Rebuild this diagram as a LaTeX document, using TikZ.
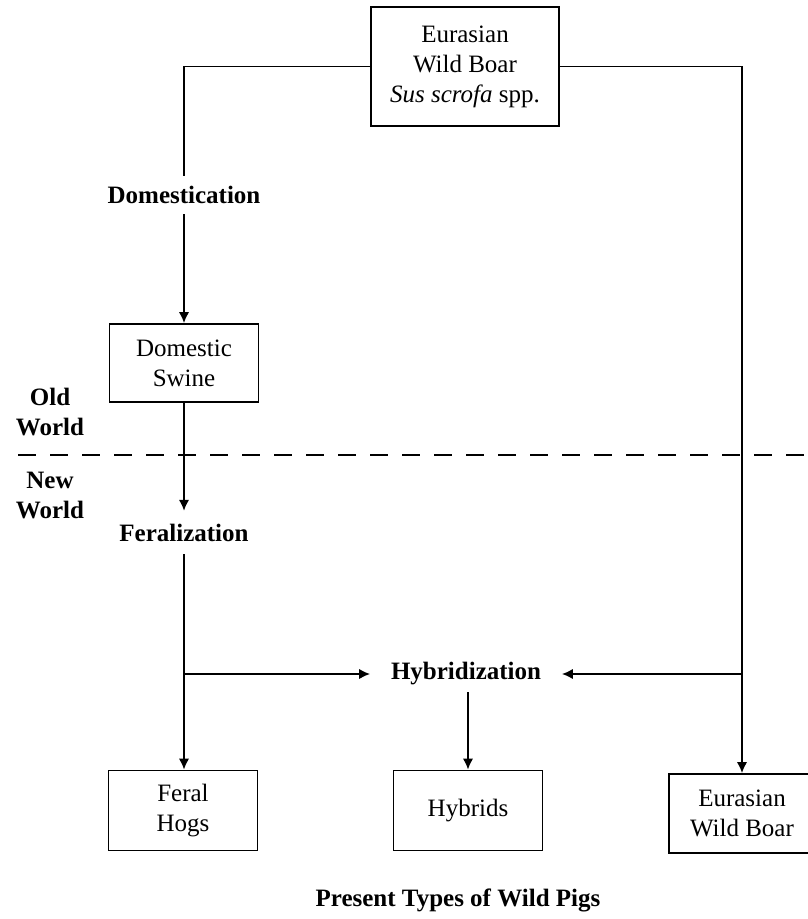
\documentclass[tikz,border=0pt]{standalone}
\usepackage{fontspec}
\setmainfont{Liberation Serif}
\usepackage{tikz}
\usetikzlibrary{arrows.meta, positioning}

\begin{document}
\begin{tikzpicture}[x=0.5pt, y=-0.5pt, >={Latex[length=5.5pt,width=5.2pt]},
            line width=0.9pt,
            font=\fontsize{12.5}{15}\selectfont,
            box/.style={draw, rectangle, align=center, inner sep=0pt, minimum width=74.5pt, minimum height=40pt},
            lbl/.style={align=center, font=\fontsize{12.5}{15}\selectfont\bfseries, inner sep=4.5pt}]
            \useasboundingbox (0,0) rectangle (807,919);

            \node[box, minimum width=94pt, minimum height=59.5pt] (boar) at (465,66.5) {Eurasian\\Wild Boar\\\textit{Sus scrofa} spp.};
            \node[lbl, inner sep=4.75pt] (domest) at (184,195) {Domestication};
            \node[box, minimum height=39pt] (swine) at (184,363) {Domestic\\Swine};
            \node[lbl] (oldw) at (50,412) {Old\\World};
            \node[lbl] (neww) at (50,495) {New\\World};
            \node[lbl, inner ysep=6pt] (feral) at (184,532.5) {Feralization};
            \node[lbl, inner xsep=10pt, inner ysep=3pt] (hybrid) at (466,674) {Hybridization};
            \node[box] (feralhogs) at (183,810.5) {Feral\\Hogs};
            \node[box] (hybrids) at (468,810.5) {Hybrids};
            \node[box, minimum width=73pt, minimum height=39.5pt] (wildboar) at (742,813.5) {Eurasian\\Wild Boar};
            \node[lbl] (title) at (458,900) {Present Types of Wild Pigs};

            \coordinate (dl) at (18,455);
            \coordinate (dr) at (807,455);
            \coordinate (jl) at (184,674);
            \coordinate (jr) at (742,674);

            % old world / new world
            \draw[line width=0.8pt, dash pattern=on 9pt off 7pt] (dl) -- (dr);

            \draw (boar.west) -| (domest);
            \draw[->] (domest) -- (swine);
            \draw[->] (swine) -- (feral);
            \draw[->] (feral) -- (feralhogs.north -| feral);
            \draw[->] (boar.east) -| (wildboar);
            \draw[->] (jl) -- (hybrid.west);
            \draw[->] (jr) -- (hybrid.east);
            \draw[->] (hybrid.south -| hybrids) -- (hybrids);
        \end{tikzpicture}
\end{document}
